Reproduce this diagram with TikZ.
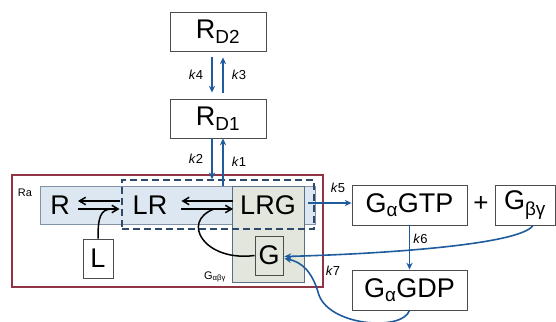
\documentclass[tikz,border=0pt]{standalone}
\usepackage{fontspec}
\setmainfont{Liberation Sans}
\usetikzlibrary{arrows.meta,positioning,calc}
\definecolor{gpBlue}{HTML}{1F5C9E}
\definecolor{gpRed}{HTML}{8E3443}
\definecolor{gpBand}{HTML}{DCE7F1}
\definecolor{gpSage}{HTML}{E2E6DC}
\definecolor{gpNavy}{HTML}{2E4A6B}
\tikzset{
  species box/.style={draw=black!70,line width=0.9pt,fill=white,minimum width=96pt,minimum height=39pt,
    inner sep=0pt,font=\fontsize{27}{30}\selectfont},
  species text/.style={inner sep=0pt,font=\fontsize{27}{30}\selectfont},
  rate label/.style={inner sep=0pt,font=\fontsize{13}{15}\selectfont},
  rate arrow/.style={-{Stealth[length=2.4mm,width=2.2mm]},line width=1.6pt,draw=gpBlue},
  binding arrow/.style={-{Straight Barb[length=2.2mm,width=2.6mm]},line width=1.5pt,draw=black}
}

\begin{document}
\begin{tikzpicture}[x=1pt,y=-1pt]
\useasboundingbox (0,0) rectangle (556,321);
% receptor compartment
\node[draw=gpRed,line width=1.2pt,minimum width=311pt,minimum height=112pt,inner sep=0pt] (ra) at (167.5,231) {};
\node[rate label,font=\fontsize{11}{13}\selectfont] (ralab) at (25,193) {Ra};
\node[draw=gpNavy!60,line width=0.8pt,fill=gpBand,minimum width=275pt,minimum height=38pt,inner sep=0pt] (band) at (177.5,205) {};
\node[draw=gpNavy!80,line width=0.9pt,fill=gpSage,minimum width=72pt,minimum height=96pt,inner sep=0pt] (gabg) at (268,234) {};
\node[draw=gpNavy,line width=1.4pt,dash pattern=on 7pt off 4pt,minimum width=192pt,minimum height=49pt,inner sep=0pt] (cplx) at (218,204.5) {};
\node[rate label,font=\fontsize{11}{13}\selectfont] (gabglab) at (215,277) {G\textsubscript{αβγ}};
\node[species text] (r) at (60,205) {R};
\node[species text] (lr) at (150,205) {LR};
\node[species text] (lrg) at (268,205) {LRG};
\node[species box,minimum width=30pt] (l) at (98,258.5) {L};
\node[species box,minimum width=28pt,fill=gpSage] (g) at (269,255.5) {G};
% desensitised states
\node[species box] (rd2) at (218,31.5) {R\textsubscript{D2}};
\node[species box] (rd1) at (218,118.5) {R\textsubscript{D1}};
% G protein products
\node[species box,minimum width=115pt,minimum height=40pt] (gtp) at (409.5,205) {G\textsubscript{α}GTP};
\node[species text,font=\fontsize{26}{28}\selectfont] (plus) at (481,204) {+};
\node[species box,minimum width=60pt,minimum height=40pt] (gbg) at (525,205) {G\textsubscript{βγ}};
\node[species box,minimum width=115pt,minimum height=40pt] (gdp) at (409.5,290) {G\textsubscript{α}GDP};
% binding steps
\draw[binding arrow] ($(lr.west)+(-13,-4)$) -- ($(r.east)+(8,-4)$);
\draw[binding arrow] ($(r.east)+(8,4)$) -- ($(lr.west)+(-13,4)$);
\draw[binding arrow] ($(lrg.west)+(-7,-4)$) -- ($(lr.east)+(14,-4)$);
\draw[binding arrow] ($(lr.east)+(14,4)$) -- ($(lrg.west)+(-7,4)$);
\draw[line width=1.5pt] (l.north) .. controls (98,218) and (100,209) .. (112,209);
\draw[line width=1.5pt] (g.west) .. controls (205,262) and (180,222) .. (214,209);
% rate steps
\draw[rate arrow] ($(rd2.south)+(-6,6)$) -- node[rate label,left=8pt]{\textit{k}4} ($(rd1.north)+(-6,-6)$);
\draw[rate arrow] ($(rd1.north)+(5,-6)$) -- node[rate label,right=8pt]{\textit{k}3} ($(rd2.south)+(5,6)$);
\draw[rate arrow] ($(rd1.south)+(-6,0)$) -- node[rate label,left=8pt]{\textit{k}2} (cplx.north -| {$(rd1.south)+(-6,0)$});
\draw[rate arrow] (band.north -| {$(rd1.south)+(5,0)$}) -- node[rate label,right=8pt]{\textit{k}1} ($(rd1.south)+(5,0)$);
\draw[rate arrow] ($(band.east)+(-7,-2)$) -- (gtp.west |- {$(band.east)+(0,-2)$});
\node[rate label] (k5) at (338,188) {\textit{k}5};
\draw[rate arrow] (gtp) -- node[rate label,right=3pt,pos=0.3]{\textit{k}6} (gdp);
\node[rate label] (k7) at (333,271) {\textit{k}7};
\draw[rate arrow] ($(gbg.south)+(8,0)$) .. controls (520,245) and (380,254) .. ($(g.east)+(1,1)$);
\draw[rate arrow] (gdp.south) .. controls (402,332) and (326,326) .. (318,292) .. controls (312,272) and (302,262) .. ($(g.east)+(1,3)$);
\end{tikzpicture}
\end{document}
